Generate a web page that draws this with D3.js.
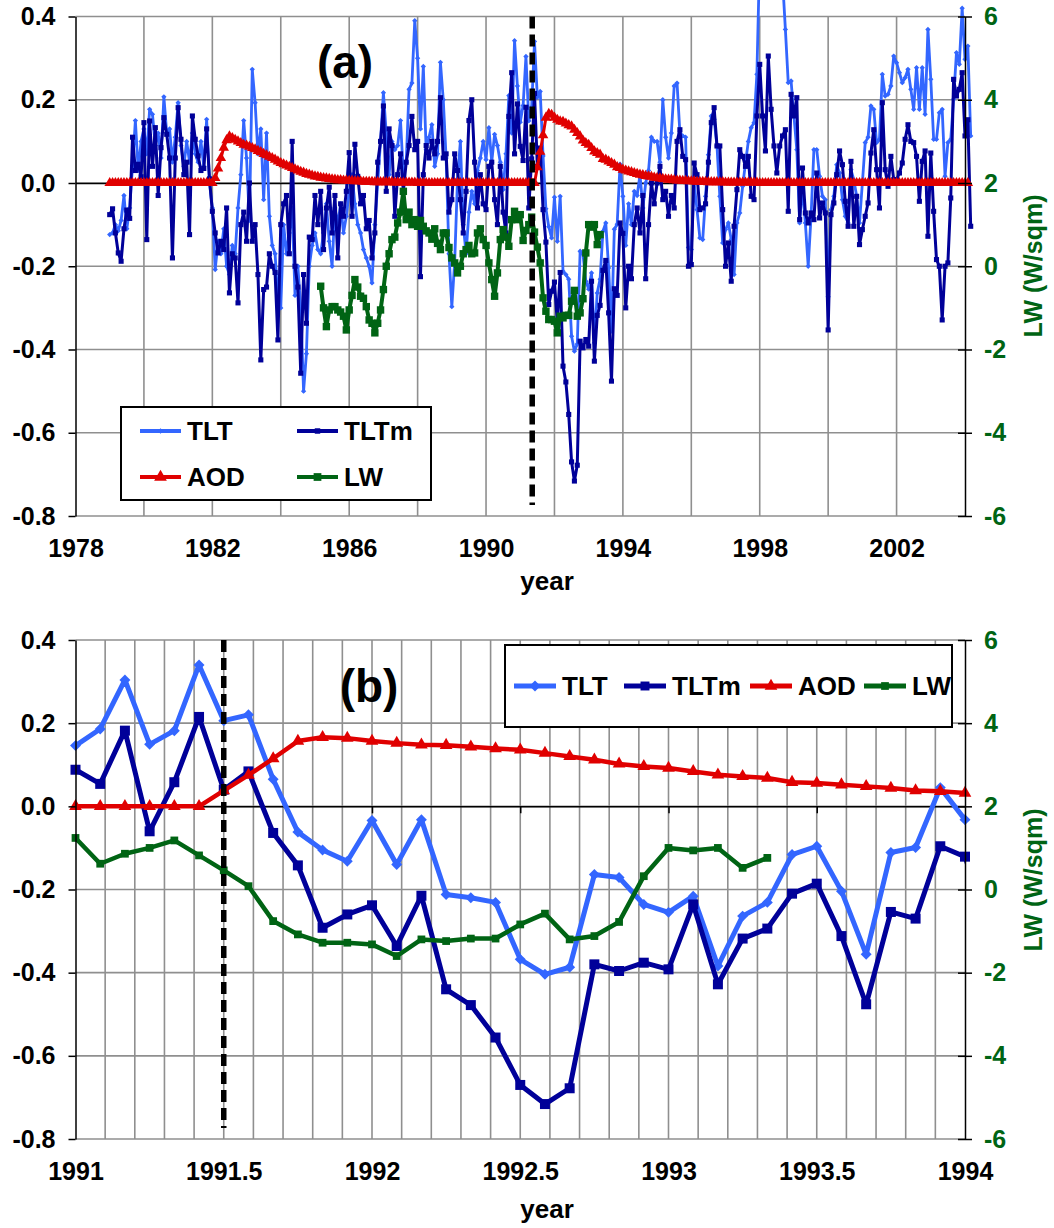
<!DOCTYPE html>
<html>
<head>
<meta charset="utf-8">
<script src="https://cdn.jsdelivr.net/npm/d3@7"></script>
<style>
  body { margin: 0; background: #fff; }
  text { font-family: "Liberation Sans", Arial, sans-serif; font-weight: bold; }
</style>
</head>
<body>
<svg id="chart" width="1054" height="1228"></svg>
<script>
// monthly series, first value = Jan 1979
var startYear = 1979;
var tlt = [
  -0.124, -0.12, -0.1, -0.115, -0.09, -0.03, -0.11, -0.06, 0.04, 0.15, 0.03, 0.1,
  0.13, 0.07, 0.177, 0.165, 0.09, 0.12, 0.06, 0.207, 0.12, 0.13, 0.05, 0.11,
  0.193, 0.09, 0.04, 0.1, 0.05, 0.12, 0.07, 0.05, 0.1, 0.04, 0.153, 0.0,
  -0.06, -0.208, -0.14, -0.17, -0.11, -0.2, -0.22, -0.15, -0.17, -0.06, 0.02, 0.15,
  0.06, -0.09, 0.273, 0.193, 0.07, 0.13, -0.04, 0.12, -0.08, -0.15, -0.17, -0.28,
  -0.3, -0.1, -0.17, -0.12, -0.06, -0.27, -0.2, -0.3, -0.5, -0.41, -0.2, -0.15,
  -0.12, -0.16, -0.17, -0.12, -0.05, -0.14, -0.2, -0.06, -0.1, -0.05, -0.12, -0.08,
  -0.02, 0.02, -0.05, -0.1, -0.12, -0.16, -0.18, -0.2, -0.24, -0.1, 0.0, 0.1,
  0.217, 0.12, 0.02, 0.1, 0.08, 0.09, 0.15, 0.02, 0.05, 0.225, 0.24, 0.39,
  0.3, 0.13, 0.28, 0.08, 0.11, 0.14, 0.04, 0.07, 0.29, 0.2, 0.06, -0.17,
  -0.297, -0.19, 0.01, 0.1, -0.1, -0.17, -0.07, -0.02, -0.05, 0.03, 0.06, 0.1,
  0.056, 0.133, 0.05, 0.117, 0.09, 0.05, -0.016, 0.07, 0.21, 0.12, 0.342, 0.233,
  0.146, 0.186, 0.304, 0.149, 0.182, 0.34, 0.206, 0.22, 0.065, -0.062, -0.105, -0.132,
  -0.034, -0.14, -0.032, -0.212, -0.22, -0.231, -0.368, -0.404, -0.387, -0.164, -0.171, -0.236,
  -0.255, -0.216, -0.384, -0.264, -0.231, -0.116, -0.096, -0.204, -0.356, -0.111, -0.099, 0.045,
  -0.032, -0.15, -0.05, -0.1, -0.02, -0.03, 0.02, -0.06, 0.0, 0.03, 0.11, 0.1,
  0.1, 0.05, 0.2, 0.11, 0.06, 0.12, 0.233, 0.24, 0.12, 0.113, 0.11, -0.155,
  -0.16, 0.0, -0.064, -0.132, -0.136, -0.032, 0.068, 0.161, 0.153, 0.089, -0.032, -0.144,
  -0.112, -0.096, -0.136, -0.22, -0.096, -0.072, -0.008, 0.048, 0.1, 0.133, 0.145, 0.261,
  0.55, 0.65, 0.6, 0.68, 0.6, 0.55, 0.57, 0.52, 0.49, 0.369, 0.241, 0.245,
  0.161, 0.08, -0.096, -0.008, -0.096, -0.2, -0.08, 0.08, 0.08, 0.016, -0.032, -0.04,
  -0.273, -0.064, -0.032, 0.044, 0.024, -0.04, -0.08, -0.096, 0.032, 0.008, -0.032, -0.096,
  0.0, 0.097, 0.11, 0.185, 0.177, 0.097, 0.105, 0.261, 0.209, 0.213, 0.233, 0.305,
  0.289, 0.265, 0.241, 0.253, 0.273, 0.225, 0.177, 0.277, 0.177, 0.277, 0.165, 0.369,
  0.249, 0.105, 0.105, 0.169, 0.177, 0.016, 0.097, 0.105, 0.201, 0.313, 0.285, 0.42,
  0.297, 0.329, 0.113
];
var tltm = [
  -0.076, -0.062, -0.12, -0.168, -0.188, -0.11, -0.065, -0.085, 0.11, 0.03, 0.045, 0.015,
  0.145, -0.136, 0.149, 0.04, 0.133, -0.03, 0.085, 0.157, 0.117, 0.06, -0.18, 0.06,
  0.181, 0.105, 0.02, 0.05, -0.124, 0.161, 0.105, 0.065, 0.03, 0.035, 0.13, 0.01,
  -0.068, -0.12, -0.168, -0.14, -0.16, -0.06, -0.264, -0.17, -0.18, -0.288, -0.1, -0.07,
  -0.14, 0.0, -0.14, -0.1, -0.22, -0.425, -0.256, -0.25, -0.17, -0.2, -0.215, -0.377,
  -0.1, -0.05, -0.03, -0.17, 0.1, -0.2, -0.25, -0.457, -0.22, -0.337, -0.13, -0.136,
  -0.03, -0.1, -0.02, -0.16, -0.06, -0.01, -0.12, -0.03, -0.18, -0.05, -0.08, -0.02,
  0.073, -0.08, 0.093, 0.016, -0.05, -0.03, -0.11, -0.09, -0.18, -0.12, 0.05, 0.1,
  0.185, -0.02, 0.13, 0.09, -0.08, 0.02, 0.07, -0.02, 0.05, 0.09, 0.16, 0.08,
  0.1, -0.225, 0.02, 0.09, 0.06, 0.1, 0.07, 0.1, 0.205, 0.06, 0.07, -0.07,
  -0.04, 0.07, 0.03, -0.04, -0.12, -0.02, 0.15, 0.2, 0.05, -0.06, 0.02, -0.05,
  -0.064, 0.04, 0.05, -0.04, -0.1, 0.04, -0.07, -0.12, 0.16, 0.265, 0.07, 0.19,
  0.088, 0.054, 0.182, -0.06, 0.058, 0.215, 0.04, 0.084, -0.064, -0.142, -0.292, -0.26,
  -0.238, -0.336, -0.215, -0.44, -0.478, -0.556, -0.67, -0.716, -0.678, -0.38, -0.396, -0.376,
  -0.392, -0.236, -0.428, -0.318, -0.294, -0.21, -0.186, -0.312, -0.476, -0.254, -0.27, -0.096,
  -0.121, -0.3, -0.2, -0.23, -0.1, -0.06, -0.12, -0.03, -0.23, -0.1, 0.0, -0.05,
  0.0, 0.04, -0.04, -0.02, -0.08, -0.03, -0.06, 0.1, 0.128, 0.064, 0.056, -0.2,
  -0.196, 0.048, 0.02, -0.064, -0.06, -0.05, 0.05, 0.145, 0.181, 0.089, 0.089, -0.064,
  -0.2, -0.144, -0.236, -0.104, -0.016, 0.08, 0.064, 0.04, 0.064, -0.032, -0.04, 0.161,
  0.285, 0.161, 0.077, 0.305, 0.177, 0.089, 0.024, 0.089, 0.113, 0.128, -0.068, 0.213,
  0.161, 0.205, -0.088, 0.036, -0.072, -0.096, -0.072, -0.088, 0.024, -0.084, -0.048, -0.072,
  -0.353, -0.076, -0.048, 0.02, 0.077, 0.044, -0.044, -0.104, 0.052, -0.104, -0.032, -0.148,
  -0.112, -0.08, -0.048, 0.072, 0.128, 0.032, -0.06, 0.193, 0.032, -0.008, 0.064, 0.008,
  0.008, 0.024, 0.048, 0.105, 0.14, 0.1, 0.097, 0.064, -0.044, 0.052, 0.077, -0.128,
  0.072, -0.068, -0.184, -0.2, -0.329, -0.2, -0.192, -0.036, 0.249, 0.209, 0.225, 0.265,
  0.113, 0.152, -0.104
];
var aod = [
  0, 0, 0, 0, 0, 0, 0, 0, 0, 0, 0, 0,
  0, 0, 0, 0, 0, 0, 0, 0, 0, 0, 0, 0,
  0, 0, 0, 0, 0, 0, 0, 0, 0, 0, 0, 0,
  0, 0.012, 0.035, 0.06, 0.085, 0.103, 0.112, 0.108, 0.104, 0.1, 0.096, 0.092,
  0.09, 0.087, 0.084, 0.081, 0.077, 0.074, 0.07, 0.067, 0.063, 0.06, 0.056, 0.052,
  0.048, 0.045, 0.042, 0.039, 0.036, 0.033, 0.03, 0.027, 0.025, 0.022, 0.02, 0.018,
  0.016, 0.015, 0.013, 0.012, 0.011, 0.01, 0.009, 0.008, 0.007, 0.007, 0.006, 0.006,
  0.005, 0.005, 0.004, 0.004, 0.004, 0.003, 0.003, 0.003, 0.003, 0.002, 0.002, 0.002,
  0.002, 0.002, 0.002, 0.002, 0.001, 0.001, 0.001, 0.001, 0.001, 0.001, 0.001, 0.001,
  0, 0, 0, 0, 0, 0, 0, 0, 0, 0, 0, 0,
  0, 0, 0, 0, 0, 0, 0, 0, 0, 0, 0, 0,
  0, 0, 0, 0, 0, 0, 0, 0, 0, 0, 0, 0,
  0, 0, 0, 0, 0, 0, 0.038, 0.075, 0.115, 0.157, 0.166, 0.164,
  0.157, 0.152, 0.148, 0.147, 0.143, 0.139, 0.136, 0.128, 0.12, 0.112, 0.102, 0.096,
  0.092, 0.084, 0.076, 0.072, 0.068, 0.058, 0.056, 0.052, 0.048, 0.044, 0.038, 0.036,
  0.032, 0.03, 0.028, 0.026, 0.024, 0.022, 0.02, 0.019, 0.017, 0.016, 0.015, 0.013,
  0.012, 0.011, 0.01, 0.009, 0.008, 0.008, 0.007, 0.006, 0.006, 0.005, 0.005, 0.004,
  0.004, 0.004, 0.003, 0.003, 0.003, 0.003, 0.002, 0.002, 0.002, 0.002, 0.002, 0.002,
  0.001, 0.001, 0.001, 0.001, 0.001, 0.001, 0.001, 0.001, 0.001, 0.001, 0.001, 0.001,
  0, 0, 0, 0, 0, 0, 0, 0, 0, 0, 0, 0,
  0, 0, 0, 0, 0, 0, 0, 0, 0, 0, 0, 0,
  0, 0, 0, 0, 0, 0, 0, 0, 0, 0, 0, 0,
  0, 0, 0, 0, 0, 0, 0, 0, 0, 0, 0, 0,
  0, 0, 0, 0, 0, 0, 0, 0, 0, 0, 0, 0,
  0, 0, 0, 0, 0, 0, 0, 0, 0, 0, 0, 0,
  0, 0
];
// LW (W/sqm) starts Mar 1985, right axis
var lwStart = 1985 + 2 / 12;
var lw = [
  -0.48, -1.0, -1.45, -1.05, -0.97, -0.97, -1.05, -1.1, -1.2, -1.53,
  -1.05, -0.7, -0.32, -0.5, -0.72, -0.77, -0.97, -1.29, -1.37, -1.6, -1.37, -1.05,
  -0.56, 0.0, 0.3, 0.64, 0.7, 1.04, 1.3, 1.8, 1.12, 1.3, 1.0, 1.12,
  0.96, 1.1, 0.96, 0.85, 0.8, 0.65, 0.9, 0.55, 0.4, 0.8, 0.8, 0.45,
  0.2, 0.08, -0.16, 0.0, 0.3, 0.4, 0.5, 0.3, 0.32, 0.8, 0.9, 0.64,
  0.5, 0.08, -0.32, -0.72, -0.16, 0.64, 0.88, 0.7, 0.48, 1.12, 1.32, 1.12,
  1.24, 0.62, 0.86, 1.0, 1.18, 0.82, 0.46, 0.08, -0.76, -1.08, -1.28, -1.28,
  -1.32, -1.6, -1.2, -1.24, -1.18, -1.18, -0.84, -0.58, -1.2, -1.12, -0.78, 0.32,
  1.0, 0.94, 1.0, 0.52, 0.76
];

var leftTicks = [0.4, 0.2, 0, -0.2, -0.4, -0.6, -0.8];
var rightTicks = [6, 4, 2, 0, -2, -4, -6];
var gridYearsA = [1980, 1982, 1984, 1986, 1988, 1990, 1992, 1994, 1996, 1998, 2000, 2002];
var labelYearsA = [1978, 1982, 1986, 1990, 1994, 1998, 2002];
var gridYearsB = [1991.1, 1991.2, 1991.3, 1991.4, 1991.5, 1991.6, 1991.7, 1991.8, 1991.9, 1992,
  1992.1, 1992.2, 1992.3, 1992.4, 1992.5, 1992.6, 1992.7, 1992.8, 1992.9, 1993,
  1993.1, 1993.2, 1993.3, 1993.4, 1993.5, 1993.6, 1993.7, 1993.8, 1993.9];
var labelYearsB = [1991, 1991.5, 1992, 1992.5, 1993, 1993.5, 1994];
var seriesNames = ["TLT", "TLTm", "AOD", "LW"];
var eruptionA = 1991.35;
var eruptionB = 1991.5;

var colors = { TLT: "#3366ff", TLTm: "#000099", AOD: "#e00000", LW: "#006414" };
var symbols = { TLT: "dia", TLTm: "sq", AOD: "tri", LW: "sq" };
var gridColor = "#8f8f8f";

var svg = d3.select("#chart");

function monthly(values, start) {
  return values.map(function(v, i) { return { t: start + i / 12, v: v }; });
}

function symbolPath(kind, size) {
  var t = kind === "tri" ? d3.symbolTriangle : d3.symbolSquare;
  return d3.symbol().type(t).size(size)();
}

function drawPanel(p) {
  var x = d3.scaleLinear().domain(p.xDomain).range([p.left, p.right]);
  var y = d3.scaleLinear().domain([-0.8, 0.4]).range([p.bottom, p.top]);
  var yR = d3.scaleLinear().domain([-6, 6]).range([p.bottom, p.top]);
  var g = svg.append("g");

  // grid
  g.selectAll(null).data(p.xGrid).enter().append("line")
    .attr("x1", function(d) { return x(d); }).attr("x2", function(d) { return x(d); })
    .attr("y1", p.top).attr("y2", p.bottom)
    .attr("stroke", gridColor).attr("stroke-width", 1.6);
  g.selectAll(null).data(leftTicks).enter().append("line")
    .attr("x1", p.left).attr("x2", p.right)
    .attr("y1", function(d) { return y(d); }).attr("y2", function(d) { return y(d); })
    .attr("stroke", gridColor).attr("stroke-width", 1.6);

  // x axis crossing at zero
  var zeroAxis = g.append("g").attr("transform", "translate(0," + y(0) + ")")
    .call(d3.axisBottom(x).tickValues(p.zeroTicks).tickFormat("").tickSize(7).tickSizeOuter(0));
  zeroAxis.selectAll("path, line").attr("stroke", "#000").attr("stroke-width", 1.5);

  // year labels under the plot
  var xLab = g.append("g").attr("transform", "translate(0," + p.bottom + ")")
    .call(d3.axisBottom(x).tickValues(p.xLabels).tickFormat(function(d) { return String(d); })
      .tickSize(0).tickPadding(23));
  xLab.select(".domain").remove();
  xLab.selectAll("text").attr("font-size", 25).attr("fill", "#000");

  var clipId = "clip" + p.id;
  svg.append("clipPath").attr("id", clipId).append("rect")
    .attr("x", p.left).attr("y", p.top).attr("width", p.right - p.left).attr("height", p.bottom - p.top);

  var data = {
    TLT: monthly(tlt, startYear),
    TLTm: monthly(tltm, startYear),
    AOD: monthly(aod, startYear),
    LW: monthly(lw, lwStart)
  };

  seriesNames.forEach(function(name) {
    var st = p.style[name];
    var yy = name === "LW" ? yR : y;
    var line = d3.line().x(function(d) { return x(d.t); }).y(function(d) { return yy(d.v); });
    var pts = data[name].filter(function(d) { return d.t >= p.xDomain[0] - 0.09 && d.t <= p.xDomain[1] + 0.25; });
    var path = g.append("path").datum(pts)
      .attr("d", line).attr("fill", "none")
      .attr("stroke", colors[name]).attr("stroke-width", st.w)
      .attr("stroke-linejoin", "round");
    if (p.clip) path.attr("clip-path", "url(#" + clipId + ")");
    var mk = pts.filter(function(d) { return !p.clip || (d.t >= p.xDomain[0] - 0.01 && d.t <= p.xDomain[1] + 0.01); });
    g.selectAll(null).data(mk).enter().append("path")
      .attr("d", symbolPath(symbols[name], st.size))
      .attr("fill", colors[name])
      .attr("transform", function(d) {
        return "translate(" + x(d.t) + "," + yy(d.v) + ")" + (symbols[name] === "dia" ? " rotate(45)" : "");
      });
  });

  // left axis
  var la = g.append("g").attr("transform", "translate(" + p.left + ",0)")
    .call(d3.axisLeft(y).tickValues(leftTicks).tickFormat(function(d) { return d.toFixed(1); })
      .tickSize(7).tickPadding(13).tickSizeOuter(0));
  la.selectAll("path, line").attr("stroke", "#000").attr("stroke-width", 1.5);
  la.selectAll("text").attr("font-size", 25).attr("fill", "#000");

  // right axis (LW)
  var ra = g.append("g").attr("transform", "translate(" + p.right + ",0)")
    .call(d3.axisRight(yR).tickValues(rightTicks).tickFormat(function(d) { return String(d); })
      .tickSize(7).tickPadding(12).tickSizeOuter(0));
  ra.selectAll("line").attr("x1", -7);
  ra.selectAll("path, line").attr("stroke", "#000").attr("stroke-width", 1.5);
  ra.selectAll("text").attr("font-size", 25).attr("fill", colors.LW);

  g.append("text").attr("transform", "translate(" + p.rightTitle[0] + "," + p.rightTitle[1] + ") rotate(-90)")
    .attr("text-anchor", "middle").attr("font-size", 25).attr("fill", colors.LW)
    .text("LW (W/sqm)");

  g.append("text").attr("x", p.yearTitle[0]).attr("y", p.yearTitle[1])
    .attr("text-anchor", "middle").attr("font-size", 26).text("year");

  // eruption marker
  g.append("line")
    .attr("x1", x(p.erupt)).attr("x2", x(p.erupt))
    .attr("y1", p.top).attr("y2", p.eruptEnd)
    .attr("stroke", "#000").attr("stroke-width", 5.5).attr("stroke-dasharray", "12,6");

  g.append("text").attr("x", p.label[0]).attr("y", p.label[1])
    .attr("text-anchor", "middle").attr("font-size", 46).text(p.name);

  // legend
  var lg = p.legend;
  g.append("rect").attr("x", lg.box[0]).attr("y", lg.box[1])
    .attr("width", lg.box[2] - lg.box[0]).attr("height", lg.box[3] - lg.box[1])
    .attr("fill", "#fff").attr("stroke", "#000").attr("stroke-width", 2);
  seriesNames.forEach(function(name, i) {
    var it = lg.items[i];
    var st = p.style[name];
    g.append("line").attr("x1", it[0]).attr("x2", it[0] + lg.len).attr("y1", it[1]).attr("y2", it[1])
      .attr("stroke", colors[name]).attr("stroke-width", lg.w);
    g.append("path").attr("d", symbolPath(symbols[name], lg.sizes[i]))
      .attr("fill", colors[name])
      .attr("transform", "translate(" + (it[0] + lg.len / 2) + "," + it[1] + ")" + (symbols[name] === "dia" ? " rotate(45)" : ""));
    g.append("text").attr("x", it[0] + lg.len + 6).attr("y", it[1]).attr("dy", "0.36em")
      .attr("font-size", lg.font).text(name);
  });
}

drawPanel({
  id: "a", name: "(a)", xDomain: [1978, 2004],
  left: 75.5, right: 965, top: 16.5, bottom: 516,
  xGrid: gridYearsA, xLabels: labelYearsA, zeroTicks: [],
  erupt: eruptionA, eruptEnd: 505, clip: false,
  label: [345, 78], yearTitle: [547, 590], rightTitle: [1042, 266],
  style: {
    TLT: { w: 2.8, size: 14 }, TLTm: { w: 3, size: 26 },
    AOD: { w: 3, size: 48 }, LW: { w: 4, size: 55 }
  },
  legend: { box: [121, 407, 431, 500], len: 41, font: 26, w: 4,
    sizes: [16, 30, 70, 60],
    items: [[140, 431], [297, 431], [140, 477], [297, 477]] }
});

drawPanel({
  id: "b", name: "(b)", xDomain: [1991, 1994],
  left: 75.5, right: 965, top: 640, bottom: 1139,
  xGrid: gridYearsB, xLabels: labelYearsB, zeroTicks: [1991.5, 1992, 1992.5, 1993, 1993.5],
  erupt: eruptionB, eruptEnd: 1128, clip: true,
  label: [369, 702], yearTitle: [547, 1218], rightTitle: [1042, 880],
  style: {
    TLT: { w: 5, size: 60 }, TLTm: { w: 5, size: 100 },
    AOD: { w: 4.5, size: 70 }, LW: { w: 4.5, size: 60 }
  },
  legend: { box: [505, 645, 952, 727], len: 42, font: 26, w: 5,
    sizes: [60, 80, 70, 60],
    items: [[514, 686], [624, 686], [750, 686], [864, 686]] }
});
</script>
</body>
</html>
